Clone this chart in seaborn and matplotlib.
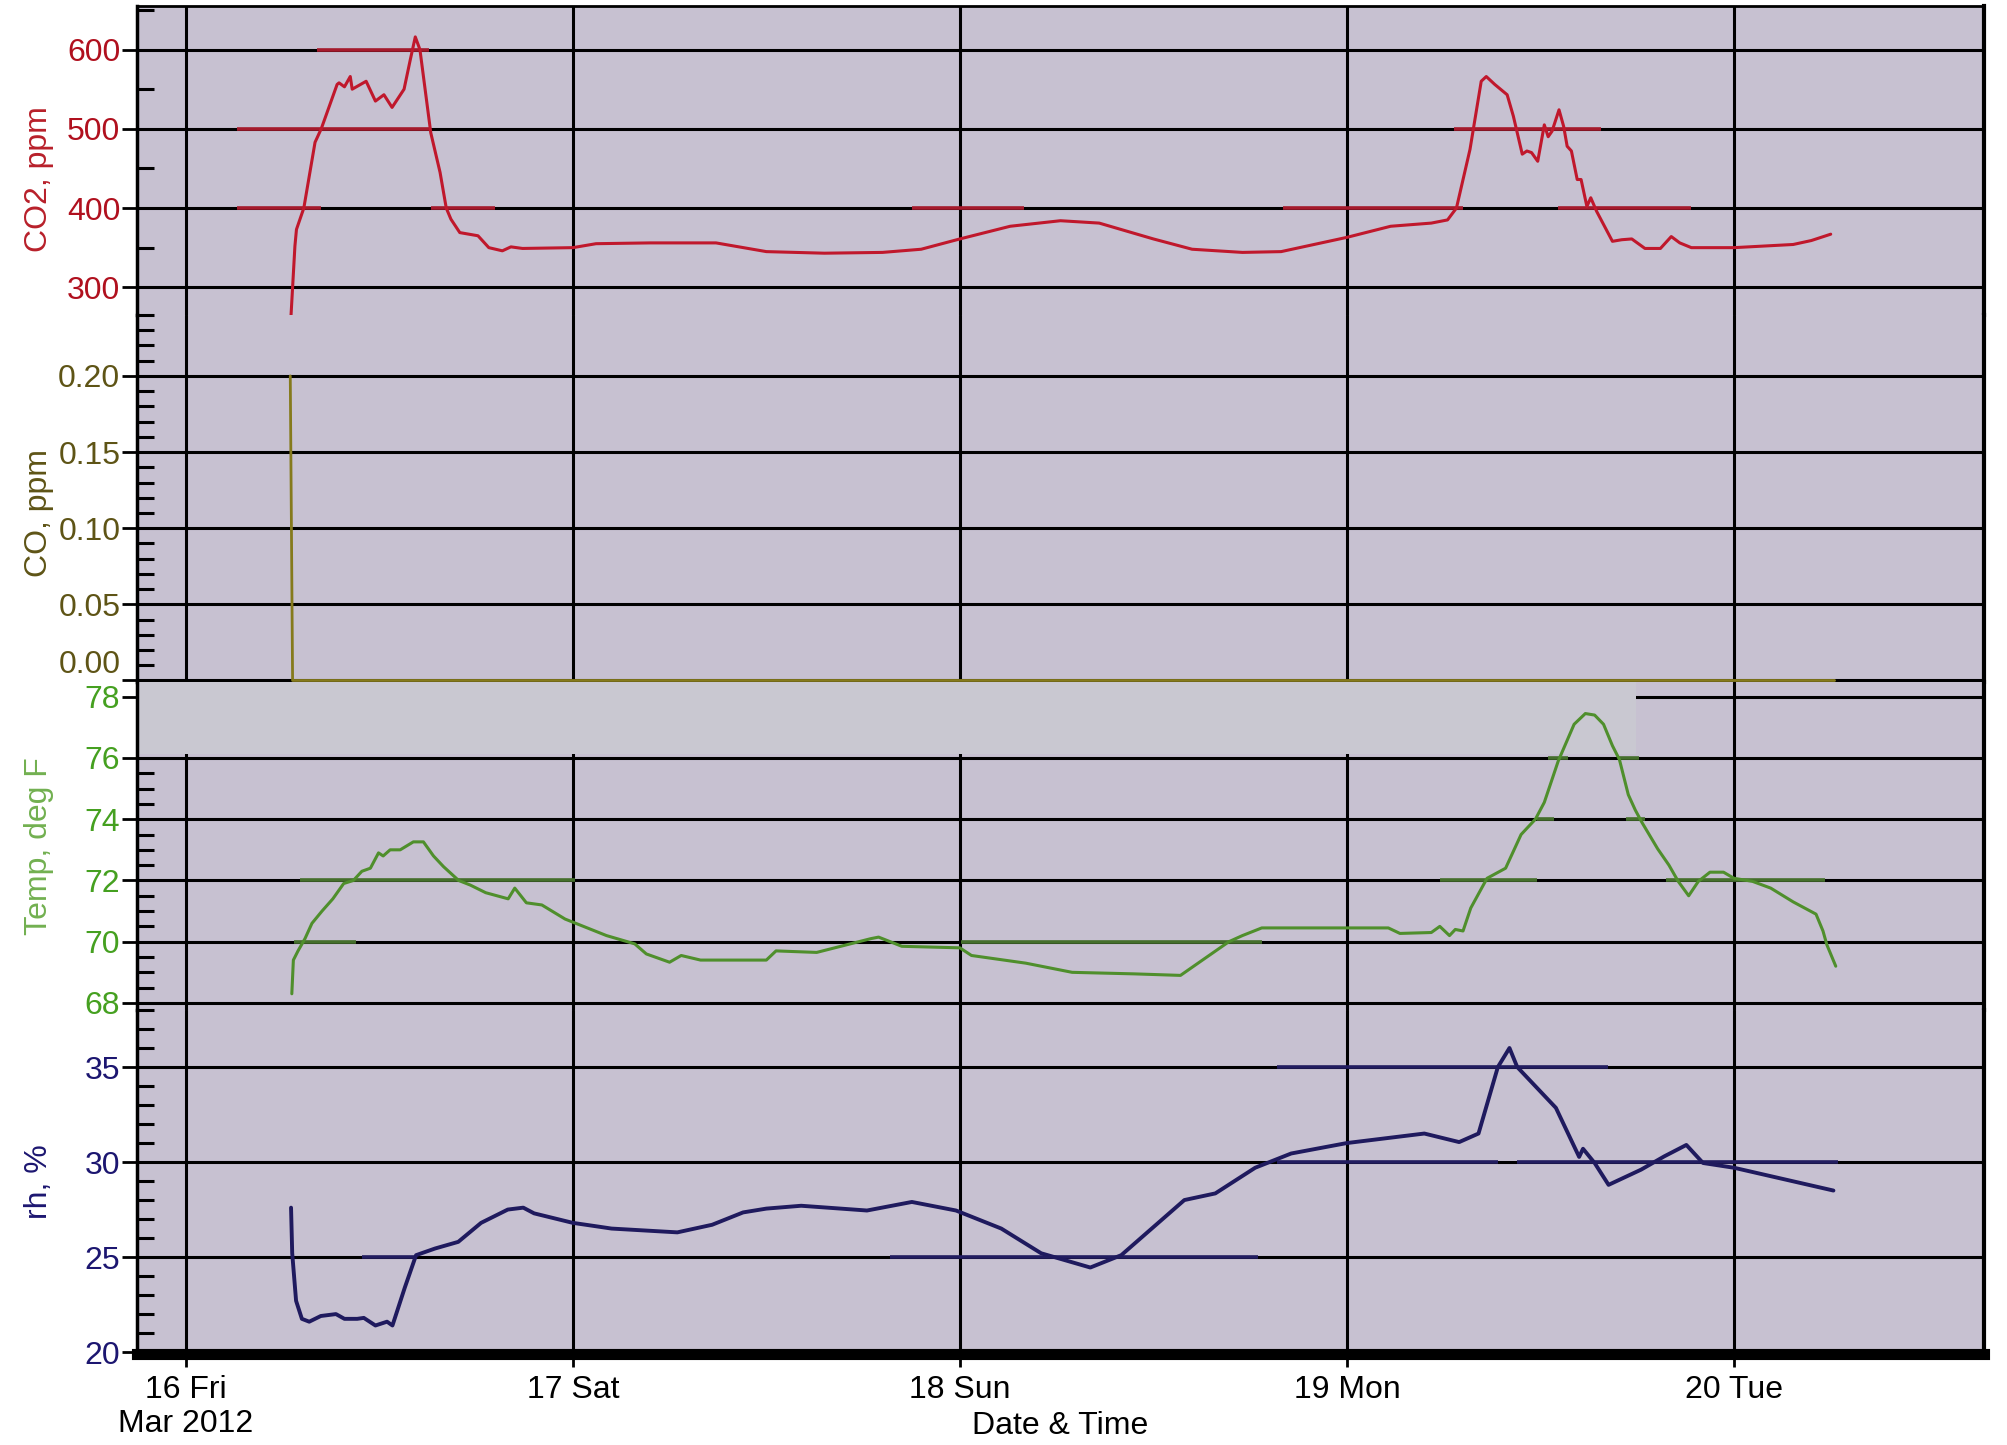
import matplotlib
matplotlib.use("Agg")
import matplotlib.pyplot as plt
import seaborn as sns
from matplotlib.ticker import FixedLocator, MultipleLocator, FormatStrFormatter

# ─── Data (x = day of March 2012, fractional) ────────────────────────────────
co2_day = [
    16.272, 16.282, 16.286, 16.305, 16.334, 16.350, 16.391, 16.396, 16.410, 16.425,
    16.430, 16.466, 16.490, 16.512, 16.533, 16.564, 16.580, 16.593, 16.605, 16.633,
    16.657, 16.673, 16.685, 16.708, 16.755, 16.783, 16.818, 16.840, 16.870, 17.000,
    17.060, 17.200, 17.370, 17.500, 17.650, 17.800, 17.900, 18.000, 18.130, 18.260,
    18.360, 18.500, 18.600, 18.730, 18.830, 19.000, 19.113, 19.218, 19.260, 19.283,
    19.318, 19.347, 19.360, 19.382, 19.414, 19.430, 19.453, 19.465, 19.477, 19.493,
    19.510, 19.520, 19.530, 19.548, 19.560, 19.569, 19.580, 19.595, 19.605, 19.620,
    19.630, 19.645, 19.686, 19.710, 19.736, 19.770, 19.810, 19.838, 19.860, 19.890,
    20.000, 20.153, 20.200, 20.250,
]
co2_ppm = [
    265, 352, 373, 400, 483, 500, 556, 558, 553, 566,
    550, 560, 535, 543, 527, 550, 587, 616, 600, 495,
    445, 400, 386, 369, 365, 350, 346, 351, 349, 350,
    355, 356, 356, 345, 343, 344, 348, 361, 377, 384,
    381, 361, 348, 344, 345, 363, 377, 381, 385, 400,
    474, 560, 566, 556, 543, 516, 468, 472, 470, 459,
    505, 490, 497, 524, 503, 478, 472, 436, 436, 402,
    413, 396, 358, 360, 361, 349, 349, 364, 356, 350,
    350, 354, 359, 367,
]

co_day = [16.270, 16.276, 17.0, 18.0, 19.0, 20.0, 20.26]
co_ppm = [0.20, 0.0, 0.0, 0.0, 0.0, 0.0, 0.0]

temp_day = [
    16.274, 16.278, 16.290, 16.308, 16.326, 16.352, 16.380, 16.408, 16.433, 16.455,
    16.477, 16.498, 16.510, 16.528, 16.554, 16.588, 16.614, 16.640, 16.666, 16.705,
    16.735, 16.775, 16.833, 16.850, 16.880, 16.920, 16.980, 17.087, 17.160, 17.190,
    17.250, 17.280, 17.330, 17.500, 17.525, 17.630, 17.770, 17.790, 17.850, 18.000,
    18.030, 18.170, 18.290, 18.450, 18.570, 18.695, 18.730, 18.780, 19.000, 19.107,
    19.137, 19.218, 19.240, 19.265, 19.280, 19.300, 19.320, 19.362, 19.410, 19.450,
    19.487, 19.510, 19.546, 19.587, 19.616, 19.640, 19.663, 19.686, 19.704, 19.727,
    19.745, 19.762, 19.803, 19.832, 19.856, 19.883, 19.908, 19.938, 19.973, 20.000,
    20.048, 20.095, 20.153, 20.212, 20.230, 20.240, 20.263,
]
temp_f = [
    68.3, 69.4, 69.7, 70.1, 70.6, 71.0, 71.4, 71.9, 72.0, 72.3,
    72.4, 72.9, 72.8, 73.0, 73.0, 73.26, 73.26, 72.8, 72.45, 72.0,
    71.85, 71.6, 71.4, 71.75, 71.27, 71.2, 70.74, 70.2, 69.93, 69.6,
    69.33, 69.55, 69.4, 69.4, 69.7, 69.65, 70.1, 70.15, 69.85, 69.8,
    69.55, 69.3, 69.0, 68.95, 68.9, 70.0, 70.2, 70.45, 70.45, 70.45,
    70.27, 70.3, 70.5, 70.2, 70.4, 70.35, 71.1, 72.07, 72.4, 73.5,
    74.0, 74.55, 75.9, 77.1, 77.45, 77.4, 77.1, 76.4, 75.95, 74.8,
    74.3, 73.9, 73.03, 72.5, 71.97, 71.5, 71.97, 72.27, 72.27, 72.07,
    71.97, 71.75, 71.3, 70.9, 70.35, 69.9, 69.2,
]

rh_day = [
    16.272, 16.275, 16.285, 16.300, 16.319, 16.349, 16.388, 16.410, 16.443, 16.460,
    16.490, 16.520, 16.534, 16.566, 16.595, 16.644, 16.704, 16.763, 16.832, 16.872,
    16.900, 17.000, 17.067, 17.100, 17.270, 17.360, 17.440, 17.500, 17.590, 17.760,
    17.876, 17.990, 18.107, 18.210, 18.337, 18.417, 18.580, 18.660, 18.763, 18.856,
    19.000, 19.200, 19.290, 19.340, 19.390, 19.420, 19.440, 19.540, 19.600, 19.610,
    19.640, 19.676, 19.760, 19.820, 19.877, 19.920, 20.000, 20.257,
]
rh_pct = [
    27.6, 25.2, 22.7, 21.75, 21.6, 21.9, 22.0, 21.75, 21.75, 21.8,
    21.4, 21.6, 21.4, 23.4, 25.1, 25.45, 25.8, 26.8, 27.5, 27.6,
    27.3, 26.8, 26.6, 26.5, 26.3, 26.7, 27.35, 27.55, 27.7, 27.45,
    27.9, 27.45, 26.5, 25.2, 24.45, 25.1, 28.0, 28.35, 29.7, 30.45,
    31.0, 31.5, 31.05, 31.5, 35.0, 36.0, 35.0, 32.85, 30.27, 30.7,
    29.95, 28.8, 29.6, 30.3, 30.9, 29.95, 29.7, 28.5,
]

# colored traces that the scan left along some grid lines
co2_seg_level = [600, 500, 400, 400, 400, 400, 500, 400]
co2_seg_start = [16.340, 16.132, 16.132, 16.634, 17.877, 18.835, 19.277, 19.546]
co2_seg_end = [16.628, 16.634, 16.350, 16.800, 18.166, 19.300, 19.657, 19.890]

temp_seg_level = [72, 72, 70, 70, 72, 76, 76, 74, 74, 72]
temp_seg_start = [16.296, 16.717, 16.280, 18.003, 19.240, 19.520, 19.700, 19.490, 19.720, 19.825]
temp_seg_end = [16.717, 17.006, 16.440, 18.780, 19.490, 19.570, 19.755, 19.535, 19.770, 20.235]

rh_seg_level = [35, 30, 30, 25, 25]
rh_seg_start = [18.820, 18.820, 19.440, 17.820, 16.456]
rh_seg_end = [19.675, 19.390, 20.270, 18.770, 16.595]

day_ticks = [16, 17, 18, 19, 20]
day_labels = ["16 Fri\nMar 2012", "17 Sat", "18 Sun", "19 Mon", "20 Tue"]

co2_ticks = [300, 400, 500, 600]
co_ticks = [0.00, 0.05, 0.10, 0.15, 0.20]
temp_ticks = [68, 70, 72, 74, 76, 78]
rh_ticks = [20, 25, 30, 35]

# ─── Layout / style ──────────────────────────────────────────────────────────
W, H, DPI = 2007, 1445, 100
X0, X1 = 137, 1984
EDGES = [6, 315, 682, 1010, 1354]      # panel borders, px from top
BG = "#c7c1d1"
BAND = "#c9c8d1"

sns.set_style("white")
plt.rcParams["font.family"] = ["Liberation Sans", "DejaVu Sans"]

panels = [
    # x, y, ylim, ticks, minor step, fmt, line colour, lw, tick colour, label, label colour, segments
    (co2_day, co2_ppm, (265, 655), co2_ticks, 50, "%d", "#c0182c", 2.2,
     "#b0101e", "CO2, ppm", "#b8202a",
     (co2_seg_level, co2_seg_start, co2_seg_end, "#a51a2c")),
    (co_day, co_ppm, (-0.001, 0.24), co_ticks, 0.01, "%.2f", "#857a1c", 2.0,
     "#5e5416", "CO, ppm", "#5e5416", None),
    (temp_day, temp_f, (67.77, 78.48), temp_ticks, 0.5, "%d", "#4f8f2c", 2.2,
     "#45a020", "Temp, deg F", "#72b050",
     (temp_seg_level, temp_seg_start, temp_seg_end, "#456f2c")),
    (rh_day, rh_pct, (19.9, 38.0), rh_ticks, 1, "%d", "#1f1a5e", 2.8,
     "#1c1670", "rh, %", "#1c1670",
     (rh_seg_level, rh_seg_start, rh_seg_end, "#221d60")),
]

fig = plt.figure(figsize=(W / DPI, H / DPI), dpi=DPI)
fig.patch.set_facecolor("white")

axes = []
for i, (xd, yd, ylim, ticks, minor, fmt, lc, lw, tc, label, labc, segs) in enumerate(panels):
    top, bot = EDGES[i], EDGES[i + 1]
    ax = fig.add_axes([X0 / W, 1 - bot / H, (X1 - X0) / W, (bot - top) / H])
    ax.set_facecolor(BG)

    if segs is not None:
        lvl, x0s, x1s, sc = segs
        ax.hlines(lvl, x0s, x1s, colors=sc, linewidth=2.6, zorder=2.8)

    sns.lineplot(x=xd, y=yd, ax=ax, color=lc, linewidth=lw,
                 estimator=None, sort=False, zorder=3)

    ax.set_xlim(15.874, 20.646)
    ax.set_ylim(*ylim)
    ax.xaxis.set_major_locator(FixedLocator(day_ticks))
    ax.yaxis.set_major_locator(FixedLocator(ticks))
    ax.yaxis.set_minor_locator(MultipleLocator(minor))
    ax.yaxis.set_major_formatter(FormatStrFormatter(fmt))

    ax.grid(True, which="major", axis="both", color="black", linewidth=2.2)
    ax.set_axisbelow(True)

    ax.tick_params(axis="y", which="major", left=True, direction="out", length=11,
                   width=2, color="black", labelsize=23, labelcolor=tc, pad=1)
    ax.tick_params(axis="y", which="minor", left=True, direction="in", length=12,
                   width=2.2, color="black")
    ax.tick_params(axis="x", which="both", bottom=False, labelbottom=False)

    ax.set_ylabel(label, fontsize=23, color=labc)
    ax.yaxis.set_label_coords(-0.045, [0.44, 0.46, 0.5, 0.5][i])

    for side in ["top", "bottom"]:
        ax.spines[side].set_visible(False)
    ax.spines["left"].set_linewidth(2.5)
    ax.spines["left"].set_color("black")
    ax.spines["right"].set_linewidth(3)
    ax.spines["right"].set_color("black")
    axes.append(ax)

# the 0.00 label of the CO panel sits just above its tick
fig.canvas.draw()
axes[1].get_yticklabels()[0].set_verticalalignment("bottom")

# scanned light-grey band across the top of the temperature panel
axes[2].axhspan(76.12, 78.6, xmin=0, xmax=0.8116, color=BAND, lw=0, zorder=1.8)

axes[0].spines["top"].set_visible(True)
axes[0].spines["top"].set_linewidth(2)
axes[0].spines["top"].set_color("black")

ax_b = axes[-1]
ax_b.spines["bottom"].set_visible(True)
ax_b.spines["bottom"].set_linewidth(8)
ax_b.spines["bottom"].set_color("black")
ax_b.tick_params(axis="x", which="major", bottom=True, labelbottom=True,
                 direction="out", length=9, width=2, color="black",
                 labelsize=23, labelcolor="black", pad=6)
ax_b.set_xticklabels(day_labels, linespacing=1.2)
ax_b.set_xlabel("Date & Time", fontsize=23, color="black")
ax_b.xaxis.set_label_coords(0.5, -0.165)

fig.savefig("out.png", dpi=DPI, facecolor="white")
